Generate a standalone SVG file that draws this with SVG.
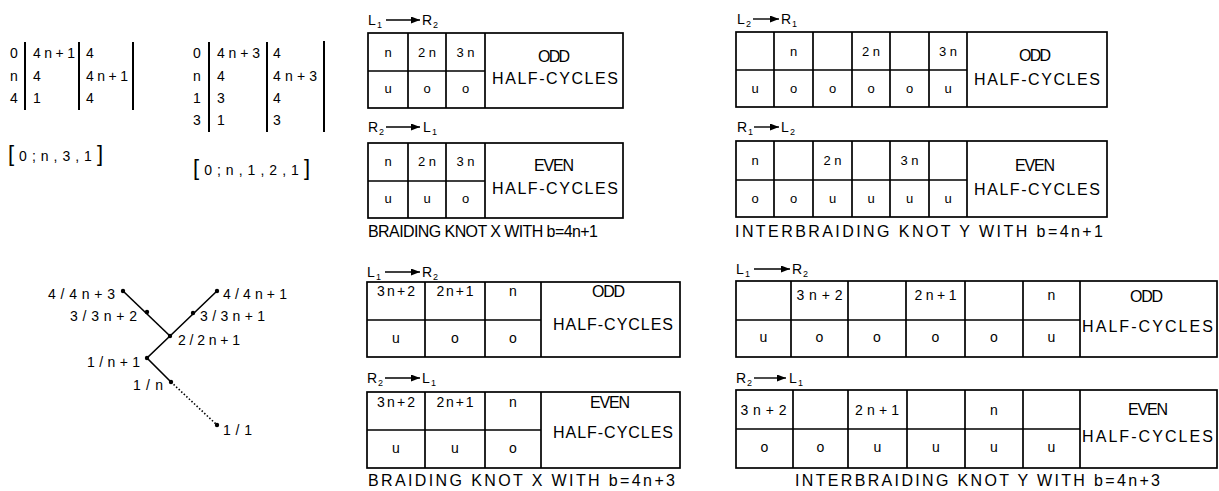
<svg xmlns="http://www.w3.org/2000/svg" width="1219" height="491" viewBox="0 0 1219 491">
<style>
text{font-family:"Liberation Sans",Arial,sans-serif;fill:#000}
.m{font-size:14px}
.s{font-size:13px}
.c{font-size:13px;text-anchor:middle}
.cb{font-size:14px;text-anchor:middle}
.d{font-size:16px}
.h{font-size:16px}
.cap{font-size:16px}
.sub{font-size:9px}
.g{fill:none;stroke:#000;stroke-width:1.7}
.bar{stroke:#000;stroke-width:2}
.ln{stroke:#000;stroke-width:1.6;fill:none}
.dot{fill:#000}
.ar{stroke:#000;stroke-width:1.4}
</style>
<defs>
<marker id="ah" markerUnits="userSpaceOnUse" markerWidth="9" markerHeight="7" refX="9" refY="3.5" orient="auto"><path d="M0,0 L9,3.5 L0,7 z" fill="#000"/></marker>
</defs>

<g id="matrix1">
<line class="bar" x1="25" y1="42" x2="25" y2="110"/>
<line class="bar" x1="79" y1="42" x2="79" y2="110"/>
<line class="bar" x1="133" y1="42" x2="133" y2="110" stroke-width="1.6"/>
<text class="m" x="10" y="58">0</text>
<text class="m" x="10" y="81">n</text>
<text class="m" x="10" y="103">4</text>
<text class="m" x="33" y="58" textLength="42" lengthAdjust="spacing">4n+1</text>
<text class="m" x="33" y="81">4</text>
<text class="m" x="33" y="103">1</text>
<text class="m" x="86" y="58">4</text>
<text class="m" x="86" y="81" textLength="42" lengthAdjust="spacing">4n+1</text>
<text class="m" x="86" y="103">4</text>
<text class="m" x="8" y="161" textLength="95" lengthAdjust="spacing"><tspan font-size="22">[</tspan>0;n,3,1<tspan font-size="22">]</tspan></text>
</g>

<g id="matrix2">
<line class="bar" x1="209" y1="42" x2="209" y2="132"/>
<line class="bar" x1="267" y1="42" x2="267" y2="132"/>
<line class="bar" x1="324" y1="41" x2="324" y2="132" stroke-width="1.6"/>
<text class="m" x="193" y="58">0</text>
<text class="m" x="193" y="81">n</text>
<text class="m" x="193" y="103">1</text>
<text class="m" x="193" y="125">3</text>
<text class="m" x="217" y="58" textLength="43" lengthAdjust="spacing">4n+3</text>
<text class="m" x="217" y="81">4</text>
<text class="m" x="217" y="103">3</text>
<text class="m" x="217" y="125">1</text>
<text class="m" x="273" y="58">4</text>
<text class="m" x="273" y="81" textLength="44" lengthAdjust="spacing">4n+3</text>
<text class="m" x="273" y="103">4</text>
<text class="m" x="273" y="125">3</text>
<text class="m" x="193" y="175" textLength="117" lengthAdjust="spacing"><tspan font-size="22">[</tspan>0;n,1,2,1<tspan font-size="22">]</tspan></text>
</g>

<g id="tree-connectors">
<polyline class="ln" points="123,291 170,336"/>
<polyline class="ln" points="217,291 170,336 147,358 171,382"/>
<line class="ln" x1="171" y1="382" x2="217" y2="425" stroke-dasharray="1.5,2"/>
</g>
<g id="tree-nodes">
<circle class="dot" cx="123" cy="291" r="2.2"/>
<circle class="dot" cx="147" cy="312" r="2.2"/>
<circle class="dot" cx="170" cy="336" r="2.2"/>
<circle class="dot" cx="217" cy="291" r="2.2"/>
<circle class="dot" cx="193" cy="313" r="2.2"/>
<circle class="dot" cx="147" cy="358" r="2.2"/>
<circle class="dot" cx="171" cy="382" r="2.2"/>
<circle class="dot" cx="217" cy="425" r="2.2"/>
<text class="m" x="48" y="299" textLength="67" lengthAdjust="spacing">4/4n+3</text>
<text class="m" x="70" y="321" textLength="67" lengthAdjust="spacing">3/3n+2</text>
<text class="m" x="178" y="345" textLength="62" lengthAdjust="spacing">2/2n+1</text>
<text class="m" x="223" y="299" textLength="64" lengthAdjust="spacing">4/4n+1</text>
<text class="m" x="200" y="321" textLength="65" lengthAdjust="spacing">3/3n+1</text>
<text class="m" x="87" y="367" textLength="53" lengthAdjust="spacing">1/n+1</text>
<text class="m" x="133" y="390" textLength="30" lengthAdjust="spacing">1/n</text>
<text class="m" x="223" y="435" textLength="29" lengthAdjust="spacing">1/1</text>
</g>

<!-- Braiding knot X b=4n+1 -->
<g id="bx1-odd">
<text class="m" x="368" y="25">L</text><text class="sub" x="377" y="28">1</text>
<line class="ar" x1="386" y1="20" x2="420" y2="20" marker-end="url(#ah)"/>
<text class="m" x="422" y="25">R</text><text class="sub" x="433" y="28">2</text>
<rect class="g" x="368" y="33" width="255" height="75"/>
<path class="g" d="M408,33V108M446,33V108M485,33V108M368,71H485"/>
<text class="c" x="388" y="57">n</text>
<text class="s" x="418" y="57" textLength="18" lengthAdjust="spacing">2n</text>
<text class="s" x="456.5" y="57" textLength="18" lengthAdjust="spacing">3n</text>
<text class="c" x="388" y="93">u</text>
<text class="c" x="427" y="93">o</text>
<text class="c" x="465.5" y="93">o</text>
<text class="d" x="538" y="62" textLength="32" lengthAdjust="spacing">ODD</text>
<text class="h" x="492" y="84" textLength="126" lengthAdjust="spacing">HALF-CYCLES</text>
</g>
<g id="bx1-even">
<text class="m" x="368" y="132">R</text><text class="sub" x="379" y="135">2</text>
<line class="ar" x1="386" y1="127" x2="420" y2="127" marker-end="url(#ah)"/>
<text class="m" x="423" y="132">L</text><text class="sub" x="432" y="135">1</text>
<rect class="g" x="368" y="143" width="255" height="75"/>
<path class="g" d="M408,143V218M446,143V218M485,143V218M368,181H485"/>
<text class="c" x="388" y="166">n</text>
<text class="s" x="418" y="166" textLength="18" lengthAdjust="spacing">2n</text>
<text class="s" x="456.5" y="166" textLength="18" lengthAdjust="spacing">3n</text>
<text class="c" x="388" y="203">u</text>
<text class="c" x="427" y="203">u</text>
<text class="c" x="465.5" y="203">o</text>
<text class="d" x="534" y="171" textLength="40" lengthAdjust="spacing">EVEN</text>
<text class="h" x="492" y="194" textLength="126" lengthAdjust="spacing">HALF-CYCLES</text>
<text class="cap" x="368" y="237" textLength="230" lengthAdjust="spacing">BRAIDING KNOT X WITH b=4n+1</text>
</g>

<!-- Interbraiding knot Y b=4n+1 -->
<g id="iy1-odd">
<text class="m" x="737" y="24">L</text><text class="sub" x="746" y="27">2</text>
<line class="ar" x1="753" y1="19" x2="779" y2="19" marker-end="url(#ah)"/>
<text class="m" x="781" y="24">R</text><text class="sub" x="792" y="27">1</text>
<rect class="g" x="736" y="32" width="371" height="75"/>
<path class="g" d="M774,32V107M813,32V107M852,32V107M890,32V107M929,32V107M967,32V107M736,70H967"/>
<text class="c" x="793.5" y="56">n</text>
<text class="s" x="862" y="56" textLength="18" lengthAdjust="spacing">2n</text>
<text class="s" x="939" y="56" textLength="18" lengthAdjust="spacing">3n</text>
<text class="c" x="755" y="93">u</text>
<text class="c" x="793.5" y="93">o</text>
<text class="c" x="832.5" y="93">o</text>
<text class="c" x="871" y="93">o</text>
<text class="c" x="909.5" y="93">o</text>
<text class="c" x="948" y="93">u</text>
<text class="d" x="1019" y="61" textLength="32" lengthAdjust="spacing">ODD</text>
<text class="h" x="974" y="85" textLength="126" lengthAdjust="spacing">HALF-CYCLES</text>
</g>
<g id="iy1-even">
<text class="m" x="737" y="132">R</text><text class="sub" x="748" y="135">1</text>
<line class="ar" x1="754" y1="127" x2="779" y2="127" marker-end="url(#ah)"/>
<text class="m" x="781" y="132">L</text><text class="sub" x="790" y="135">2</text>
<rect class="g" x="736" y="141" width="371" height="76"/>
<path class="g" d="M774,141V217M813,141V217M852,141V217M890,141V217M929,141V217M967,141V217M736,180H967"/>
<text class="c" x="755" y="165">n</text>
<text class="s" x="823.5" y="165" textLength="18" lengthAdjust="spacing">2n</text>
<text class="s" x="900.5" y="165" textLength="18" lengthAdjust="spacing">3n</text>
<text class="c" x="755" y="203">o</text>
<text class="c" x="793.5" y="203">o</text>
<text class="c" x="832.5" y="203">u</text>
<text class="c" x="871" y="203">u</text>
<text class="c" x="909.5" y="203">u</text>
<text class="c" x="948" y="203">u</text>
<text class="d" x="1015" y="171" textLength="40" lengthAdjust="spacing">EVEN</text>
<text class="h" x="974" y="195" textLength="126" lengthAdjust="spacing">HALF-CYCLES</text>
<text class="cap" x="735" y="237" textLength="368" lengthAdjust="spacing">INTERBRAIDING KNOT Y WITH b=4n+1</text>
</g>

<!-- Braiding knot X b=4n+3 -->
<g id="bx3-odd">
<text class="m" x="367" y="277">L</text><text class="sub" x="376" y="280">1</text>
<line class="ar" x1="385" y1="272" x2="420" y2="272" marker-end="url(#ah)"/>
<text class="m" x="422" y="277">R</text><text class="sub" x="433" y="280">2</text>
<rect class="g" x="367" y="282" width="313" height="75"/>
<path class="g" d="M425,282V357M485,282V357M541,282V357M367,320H541"/>
<text class="cb" x="396" y="296" textLength="38" lengthAdjust="spacing">3n+2</text>
<text class="cb" x="455" y="296" textLength="37" lengthAdjust="spacing">2n+1</text>
<text class="cb" x="513" y="296">n</text>
<text class="cb" x="396" y="343">u</text>
<text class="cb" x="455" y="343">o</text>
<text class="cb" x="513" y="343">o</text>
<text class="d" x="592" y="297" textLength="33" lengthAdjust="spacing">ODD</text>
<text class="h" x="553" y="330" textLength="120" lengthAdjust="spacing">HALF-CYCLES</text>
</g>
<g id="bx3-even">
<text class="m" x="367" y="383">R</text><text class="sub" x="378" y="386">2</text>
<line class="ar" x1="385" y1="378" x2="420" y2="378" marker-end="url(#ah)"/>
<text class="m" x="422" y="383">L</text><text class="sub" x="431" y="386">1</text>
<rect class="g" x="367" y="392" width="313" height="76"/>
<path class="g" d="M425,392V468M485,392V468M541,392V468M367,430H541"/>
<text class="cb" x="396" y="407" textLength="38" lengthAdjust="spacing">3n+2</text>
<text class="cb" x="455" y="407" textLength="37" lengthAdjust="spacing">2n+1</text>
<text class="cb" x="513" y="407">n</text>
<text class="cb" x="396" y="453">u</text>
<text class="cb" x="455" y="453">u</text>
<text class="cb" x="513" y="453">o</text>
<text class="d" x="590" y="408" textLength="40" lengthAdjust="spacing">EVEN</text>
<text class="h" x="553" y="438" textLength="120" lengthAdjust="spacing">HALF-CYCLES</text>
<text class="cap" x="368" y="486" textLength="307" lengthAdjust="spacing">BRAIDING KNOT X WITH b=4n+3</text>
</g>

<!-- Interbraiding knot Y b=4n+3 -->
<g id="iy3-odd">
<text class="m" x="736" y="274">L</text><text class="sub" x="745" y="277">1</text>
<line class="ar" x1="754" y1="269" x2="790" y2="269" marker-end="url(#ah)"/>
<text class="m" x="792" y="274">R</text><text class="sub" x="803" y="277">2</text>
<rect class="g" x="736" y="281" width="481" height="76"/>
<path class="g" d="M791,281V357M848,281V357M906,281V357M965,281V357M1023,281V357M1080,281V357M736,320H1080"/>
<text class="cb" x="819.5" y="300" textLength="46" lengthAdjust="spacing">3n+2</text>
<text class="cb" x="935.5" y="300" textLength="42" lengthAdjust="spacing">2n+1</text>
<text class="cb" x="1051.5" y="300">n</text>
<text class="cb" x="763.5" y="342">u</text>
<text class="cb" x="819.5" y="342">o</text>
<text class="cb" x="877" y="342">o</text>
<text class="cb" x="935.5" y="342">o</text>
<text class="cb" x="994" y="342">o</text>
<text class="cb" x="1051.5" y="342">u</text>
<text class="d" x="1130" y="302" textLength="33" lengthAdjust="spacing">ODD</text>
<text class="h" x="1082" y="332" textLength="131" lengthAdjust="spacing">HALF-CYCLES</text>
</g>
<g id="iy3-even">
<text class="m" x="736" y="383">R</text><text class="sub" x="747" y="386">2</text>
<line class="ar" x1="754" y1="378" x2="786" y2="378" marker-end="url(#ah)"/>
<text class="m" x="789" y="383">L</text><text class="sub" x="798" y="386">1</text>
<rect class="g" x="736" y="390" width="481" height="78"/>
<path class="g" d="M793,390V468M848,390V468M907,390V468M965,390V468M1023,390V468M1080,390V468M736,429H1080"/>
<text class="cb" x="763.5" y="415" textLength="46" lengthAdjust="spacing">3n+2</text>
<text class="cb" x="877" y="415" textLength="44" lengthAdjust="spacing">2n+1</text>
<text class="cb" x="994" y="415">n</text>
<text class="cb" x="764.5" y="452">o</text>
<text class="cb" x="820.5" y="452">o</text>
<text class="cb" x="877.5" y="452">u</text>
<text class="cb" x="936" y="452">u</text>
<text class="cb" x="994" y="452">u</text>
<text class="cb" x="1051.5" y="452">u</text>
<text class="d" x="1128" y="415" textLength="40" lengthAdjust="spacing">EVEN</text>
<text class="h" x="1082" y="442" textLength="131" lengthAdjust="spacing">HALF-CYCLES</text>
<text class="cap" x="795" y="486" textLength="365" lengthAdjust="spacing">INTERBRAIDING KNOT Y WITH b=4n+3</text>
</g>
</svg>
